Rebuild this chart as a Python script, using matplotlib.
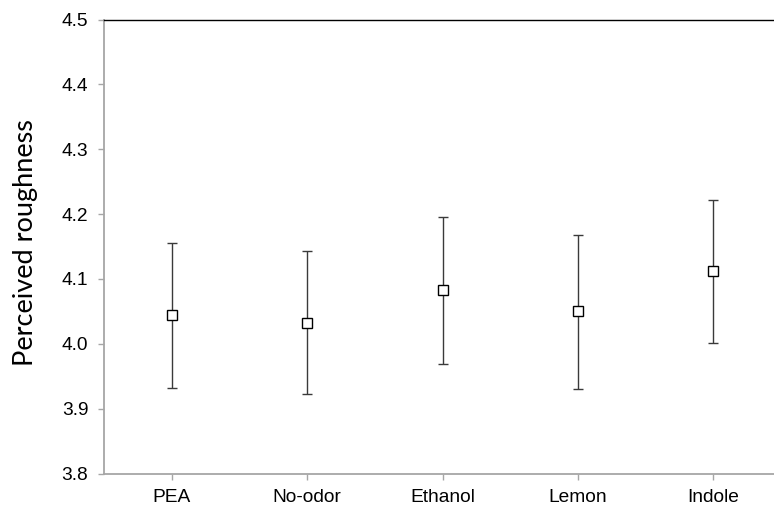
import matplotlib
matplotlib.use("Agg")
import matplotlib.pyplot as plt
import numpy as np

categories = ["PEA", "No-odor", "Ethanol", "Lemon", "Indole"]
means = [4.044, 4.032, 4.083, 4.050, 4.112]
upper = [4.156, 4.143, 4.196, 4.168, 4.222]
lower = [3.932, 3.922, 3.969, 3.930, 4.001]
yticks = [3.8, 3.9, 4.0, 4.1, 4.2, 4.3, 4.4, 4.5]

W, H = 774, 508
fig = plt.figure(figsize=(W / 100, H / 100), dpi=100)
ax = fig.add_axes([104 / W, 1 - 473.5 / H, 677 / W, 454 / H])

x = np.arange(len(categories))
m = np.array(means)
yerr = np.vstack([m - np.array(lower), np.array(upper) - m])

ax.errorbar(x, m, yerr=yerr, fmt="none", ecolor="#3a3a3a", elinewidth=1.0,
            capsize=3.5, capthick=1.0, zorder=2)
ax.plot(x, m, linestyle="none", marker="s", markersize=7.2,
        markerfacecolor="white", markeredgecolor="black", markeredgewidth=1.0, zorder=3)

ax.set_xlim(-0.5, len(categories) - 0.5)
ax.set_ylim(3.8, 4.5)
ax.set_yticks(yticks)
ax.set_yticklabels([f"{v:.1f}" for v in yticks])
ax.set_xticks(x)
ax.set_xticklabels(categories)

for s in ["left", "bottom"]:
    ax.spines[s].set_color("#a6a6a6")
    ax.spines[s].set_linewidth(1.3)
ax.spines["right"].set_visible(False)
ax.spines["top"].set_color("black")
ax.spines["top"].set_linewidth(1.0)

ax.tick_params(axis="both", direction="out", length=4.3, width=1.0, color="#a6a6a6",
               labelsize=13.8, labelcolor="black")
ax.tick_params(axis="y", pad=7.0)
ax.tick_params(axis="x", pad=6.5)
for lab in ax.get_xticklabels() + ax.get_yticklabels():
    lab.set_family("Liberation Sans")

ax.set_ylabel("Perceived roughness", fontsize=19.5, family="Lato")
ax.yaxis.set_label_coords(-0.097, 0.509)

fig.savefig("out.png", dpi=100)
